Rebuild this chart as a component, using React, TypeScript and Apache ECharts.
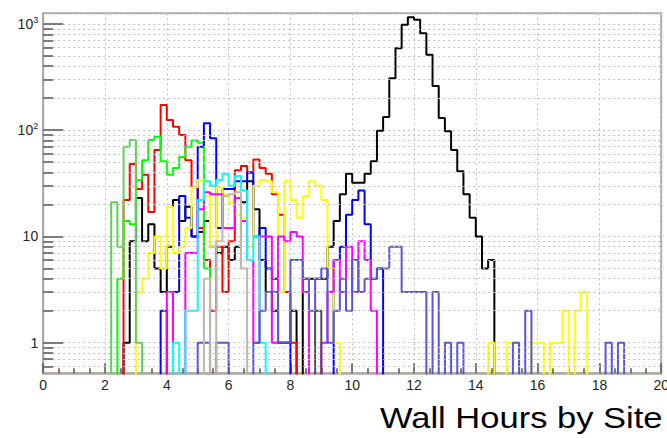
import { useEffect, useRef } from "react";
import * as echarts from "echarts";

// Histogram binning: 100 bins of 0.2 h between 0 and 20 h
const BIN_WIDTH = 0.2;
const N_BINS = 100;
// empty bins are pushed below the log-axis floor so the outline drops to the frame
const EMPTY_LEVEL = 0.05;

// Jobs per 0.2 h bin for each site; every list starts at the hour given with it
const blackStart = 2.6;
const blackCounts = [
  1, 9, 23, 9, 13, 5, 3, 8, 22, 14, 19, 10, 11, 14, 8, 7, 8, 6, 8, 21, 33, 18, 6, 3, 2, 1, 1, 2, 0,
  4, 4, 4, 4, 8, 14, 25, 39, 32, 32, 39, 51, 99, 133, 309, 590, 983, 1159, 1093, 819, 512, 261,
  130, 98, 65, 41, 25, 15, 10, 5, 6,
];

const redStart = 2.6;
const redCounts = [
  22, 48, 28, 38, 17, 65, 173, 125, 108, 90, 52, 29, 12, 6, 2, 8, 3, 9, 42, 46, 40, 53, 44, 39, 25,
  16, 3, 1,
];

const greenStart = 2.4;
const greenCounts = [4, 14, 13, 34, 52, 81, 87, 51, 38, 44, 56, 70, 80, 76, 5];

const blueStart = 3.8;
const blueCounts = [
  2, 0, 3, 24, 15, 10, 70, 116, 84, 12, 28, 28, 33, 33, 40, 10, 12, 5, 4, 1, 1, 0, 0, 0, 0, 0, 0,
  0, 6, 8, 16, 22, 27, 13, 4, 5,
];

const yellowStart = 3.0;
const yellowCounts = [
  3, 4, 7, 10, 5, 19, 7, 8, 12, 29, 34, 24, 8, 29, 25, 21, 16, 15, 8, 30, 34, 33, 26, 3, 33, 22,
  15, 24, 33, 30, 22, 5, 1,
];
const yellowTailStart = 14.4;
const yellowTailCounts = [1, 0, 0, 1, 0, 0, 0, 1, 1, 0, 1, 1, 2, 0, 2, 3];

const magentaStart = 4.0;
const magentaCounts = [
  3, 0, 0, 7, 7, 18, 26, 25, 25, 12, 12, 23, 14, 6, 1, 10, 10, 1, 10, 9, 11, 10, 3, 0, 0, 1, 3, 6,
  3, 8, 3, 9, 6, 2,
];

const cyanStart = 4.2;
const cyanCounts = [1, 0, 2, 2, 22, 33, 30, 34, 39, 30, 37, 27, 6, 10, 1];

const lightGreenStart = 2.2;
const lightGreenCounts = [21, 8, 70, 81, 1];

const slateStart = 5.0;
const slateCounts = [
  1, 1, 0, 1, 1, 0, 0, 0, 0, 1, 2, 3, 3, 1, 1, 6, 6, 4, 2, 4, 5, 1, 2, 4, 2, 6, 3, 4, 4, 5, 5, 8,
  8, 3, 3, 3, 3, 0, 3, 0, 1, 0, 1,
];
const slateTailStart = 15.2;
const slateTailCounts = [1, 0, 2];
const slateFarStart = 18.2;
const slateFarCounts = [1, 0, 1];

const tanStart = 5.2;
const tanCounts = [4, 0, 9, 24, 25, 26, 5];

const greyStart = 8.8;
const greyCounts = [2];

// y-axis decoration values (log scale)
const minorValues = [
  0.6, 0.7, 0.8, 0.9, 2, 3, 4, 5, 6, 7, 8, 9, 20, 30, 40, 50, 60, 70, 80, 90, 200, 300, 400, 500,
  600, 700, 800, 900,
];

type Segment = [number, number[]];

function buildBins(segments: Segment[]): number[] {
  const bins = new Array(N_BINS).fill(0);
  segments.forEach(([start, counts]) => {
    const k0 = Math.round(start / BIN_WIDTH);
    counts.forEach((c, i) => {
      bins[k0 + i] = c;
    });
  });
  return bins;
}

const sites: { color: string; segments: Segment[] }[] = [
  { color: "#000000", segments: [[blackStart, blackCounts]] },
  { color: "#ff0000", segments: [[redStart, redCounts]] },
  { color: "#00ff00", segments: [[greenStart, greenCounts]] },
  { color: "#0000ff", segments: [[blueStart, blueCounts]] },
  { color: "#ffff00", segments: [[yellowStart, yellowCounts], [yellowTailStart, yellowTailCounts]] },
  { color: "#ff00ff", segments: [[magentaStart, magentaCounts]] },
  { color: "#00ffff", segments: [[cyanStart, cyanCounts]] },
  { color: "#59d454", segments: [[lightGreenStart, lightGreenCounts]] },
  {
    color: "#5954d8",
    segments: [[slateStart, slateCounts], [slateTailStart, slateTailCounts], [slateFarStart, slateFarCounts]],
  },
  { color: "#bfb5ad", segments: [[tanStart, tanCounts]] },
  { color: "#4d4d4d", segments: [[greyStart, greyCounts]] },
];

const FONT = '"Liberation Sans", Arial, Helvetica, sans-serif';
const GRID_DOTS = { color: "#c2c2c2", width: 1, type: [2, 3] as number[] };
const TICK_COLOR = "#555555";

function yLabel(v: number): string {
  const e = Math.round(Math.log10(v));
  const p = Math.pow(10, e);
  if (Math.abs(v - p) / p > 1e-6) return "";
  if (e === 0) return "1";
  if (e === 1) return "10";
  return "10{sup|" + e + "}";
}

function buildOption(): echarts.EChartsOption {
  const histSeries = sites.map((s) => {
    const bins = buildBins(s.segments);
    return {
      type: "line" as const,
      step: "middle" as const,
      data: bins.map((c, k) => [(k + 0.5) * BIN_WIDTH, c > 0 ? c : EMPTY_LEVEL]),
      showSymbol: false,
      symbol: "none",
      clip: true,
      silent: true,
      z: 3,
      lineStyle: { color: s.color, width: 2 },
      itemStyle: { color: s.color },
    };
  });

  const decor = {
    type: "line" as const,
    data: [[10, 1]],
    showSymbol: false,
    symbol: "none",
    silent: true,
    z: 1,
    lineStyle: { width: 0, opacity: 0 },
    markLine: {
      silent: true,
      symbol: ["none", "none"],
      label: { show: false },
      animation: false,
      data: [
        ...minorValues.map((v) => ({ yAxis: v, lineStyle: { ...GRID_DOTS } })),
        ...minorValues.map((v) => [
          { coord: [0, v], lineStyle: { color: TICK_COLOR, width: 1.5, type: "solid" as const } },
          { coord: [0.32, v] },
        ]),
      ] as any,
    },
  };

  return {
    animation: false,
    backgroundColor: "#ffffff",
    grid: {
      left: 43.2,
      right: 1,
      top: 13.3,
      bottom: 64.7,
      show: true,
      borderColor: "#a9a9a9",
      borderWidth: 2,
      backgroundColor: "transparent",
    },
    xAxis: {
      type: "value",
      min: 0,
      max: 20,
      interval: 2,
      axisLine: { show: true, lineStyle: { color: "#b3aba3", width: 2.5 } },
      axisTick: { show: true, inside: true, length: 10, lineStyle: { color: TICK_COLOR, width: 1.5 } },
      minorTick: { show: true, splitNumber: 4, length: 5, lineStyle: { color: TICK_COLOR, width: 1.5 } },
      splitLine: { show: true, lineStyle: { ...GRID_DOTS } },
      axisLabel: { color: "#262626", fontSize: 14, fontFamily: FONT, margin: 5 },
    },
    yAxis: {
      type: "log",
      logBase: 10,
      min: 0.515,
      max: 1260,
      axisLine: { show: true, lineStyle: { color: "#a9a9a9", width: 2 } },
      axisTick: { show: true, inside: true, length: 20, lineStyle: { color: TICK_COLOR, width: 1.5 } },
      splitLine: { show: true, lineStyle: { ...GRID_DOTS } },
      axisLabel: {
        color: "#262626",
        fontSize: 14,
        fontFamily: FONT,
        margin: 5,
        showMinLabel: false,
        showMaxLabel: false,
        formatter: (v: number) => yLabel(v),
        rich: {
          sup: { fontSize: 9, fontFamily: FONT, color: "#262626", verticalAlign: "top", padding: [0, 0, 8, 0] },
        },
      },
    },
    graphic: [
      {
        type: "text",
        x: 380,
        y: 417.5,
        scaleX: 1.19,
        silent: true,
        style: {
          text: "Wall Hours by Site",
          font: "29px " + FONT,
          fill: "#000000",
          align: "left",
          verticalAlign: "middle",
        },
      },
    ],
    series: [decor, ...histSeries] as any,
  };
}

export default function App() {
  const ref = useRef<HTMLDivElement>(null);
  useEffect(() => {
    if (!ref.current) return;
    const chart = echarts.init(ref.current, null, { renderer: "svg" });
    chart.setOption(buildOption());
    return () => chart.dispose();
  }, []);
  return (
    <div
      style={{
        position: "fixed",
        left: 0,
        top: 0,
        width: 667,
        height: 438,
        overflow: "hidden",
        background: "#ffffff",
      }}
    >
      <div ref={ref} style={{ width: 672, height: 438 }} />
    </div>
  );
}
